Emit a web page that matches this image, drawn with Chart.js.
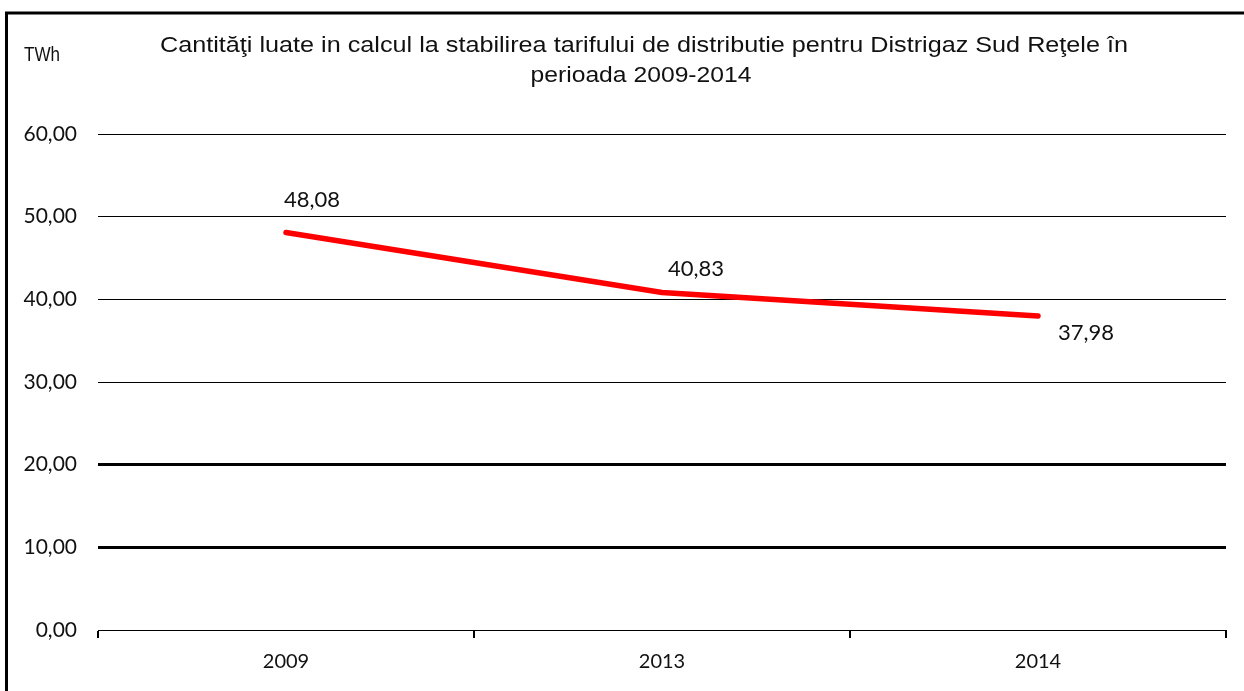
<!DOCTYPE html>
<html>
<head>
<meta charset="utf-8">
<script src="https://cdn.jsdelivr.net/npm/chart.js@4"></script>
<style>
  html, body { margin: 0; padding: 0; background: #fff; }
  #wrap { width: 1244px; height: 691px; position: relative; }
</style>
</head>
<body>
<div id="wrap"><canvas id="chart" width="1244" height="691"></canvas></div>
<script>
// datele graficului
const years = ['2009', '2013', '2014'];
const cantitati = [48.08, 40.83, 37.98];
const yTicks = [0, 10, 20, 30, 40, 50, 60];

const titleLines = [
    'Cantităţi luate in calcul la stabilirea tarifului de distributie pentru Distrigaz Sud Reţele în',
    'perioada 2009-2014'
];
const unitLabel = 'TWh';

// pozitia etichetelor fata de punct (dx, dy)
const labelOffsets = [[-2, -33], [6, -24], [20, 17]];

const fmt = v => v.toFixed(2).replace('.', ',');

// text intins pe orizontala pana la latimea data
function stretchText(c, text, cx, cy, width) {
    const w = c.measureText(text).width;
    c.save();
    c.translate(cx, cy);
    c.scale(width / w, 1);
    c.fillText(text, 0, 0);
    c.restore();
}

// rama, titlu si unitate
const decorPlugin = {
    id: 'decor',
    beforeDraw(chart) {
        const c = chart.ctx;
        c.save();
        c.fillStyle = '#fff';
        c.fillRect(0, 0, chart.width, chart.height);
        c.strokeStyle = '#000';
        c.lineWidth = 3;
        c.beginPath();
        c.moveTo(6.5, chart.height);
        c.lineTo(6.5, 13);
        c.lineTo(chart.width, 13);
        c.stroke();

        c.fillStyle = '#111';
        c.textBaseline = 'middle';
        c.textAlign = 'center';
        c.font = '22px "Liberation Sans", Arial, sans-serif';
        stretchText(c, titleLines[0], 644, 46, 968);
        stretchText(c, titleLines[1], 641, 76, 221);

        c.textAlign = 'left';
        c.font = '21px "Liberation Sans", Arial, sans-serif';
        c.fillText(unitLabel, 24, 55, 36);
        c.restore();
    }
};

// etichete valori
const valueLabels = {
    id: 'valueLabels',
    afterDatasetsDraw(chart) {
        const c = chart.ctx;
        const meta = chart.getDatasetMeta(0);
        c.save();
        c.fillStyle = '#111';
        c.font = '22px Lato, "Open Sans", sans-serif';
        c.textAlign = 'left';
        c.textBaseline = 'middle';
        meta.data.forEach((pt, i) => {
            const off = labelOffsets[i];
            c.fillText(fmt(cantitati[i]), pt.x + off[0], pt.y + off[1]);
        });
        c.restore();
    }
};

const ctx = document.getElementById('chart').getContext('2d');
new Chart(ctx, {
    type: 'line',
    data: {
        labels: years,
        datasets: [{
            label: 'Cantităţi',
            data: cantitati,
            borderColor: '#ff0000',
            borderWidth: 5.5,
            borderCapStyle: 'round',
            pointRadius: 0,
            tension: 0,
            fill: false
        }]
    },
    options: {
        responsive: false,
        animation: false,
        layout: { padding: { left: 0, top: 134, right: 18, bottom: 0 } },
        plugins: {
            legend: { display: false },
            tooltip: { enabled: false },
            title: { display: false }
        },
        scales: {
            x: {
                offset: true,
                grid: {
                    offset: true,
                    drawOnChartArea: false,
                    drawTicks: true,
                    tickLength: 8,
                    color: '#000',
                    lineWidth: 2
                },
                border: { display: true, color: '#000', width: 1 },
                ticks: {
                    color: '#111',
                    padding: 12,
                    font: { family: 'Lato, "Open Sans", sans-serif', size: 20 }
                },
                afterFit(scale) { scale.height = 61; }
            },
            y: {
                min: 0,
                max: 60,
                afterBuildTicks(scale) { scale.ticks = yTicks.map(v => ({ value: v })); },
                grid: {
                    drawTicks: false,
                    color: '#000',
                    lineWidth: c => (c.tick && (c.tick.value === 10 || c.tick.value === 20)) ? 3 : 1
                },
                border: { display: false },
                ticks: {
                    color: '#111',
                    padding: 21,
                    font: { family: 'Lato, "Open Sans", sans-serif', size: 21 },
                    callback: v => fmt(v)
                },
                afterFit(scale) { scale.width = 98; }
            }
        }
    },
    plugins: [decorPlugin, valueLabels]
});
</script>
</body>
</html>
